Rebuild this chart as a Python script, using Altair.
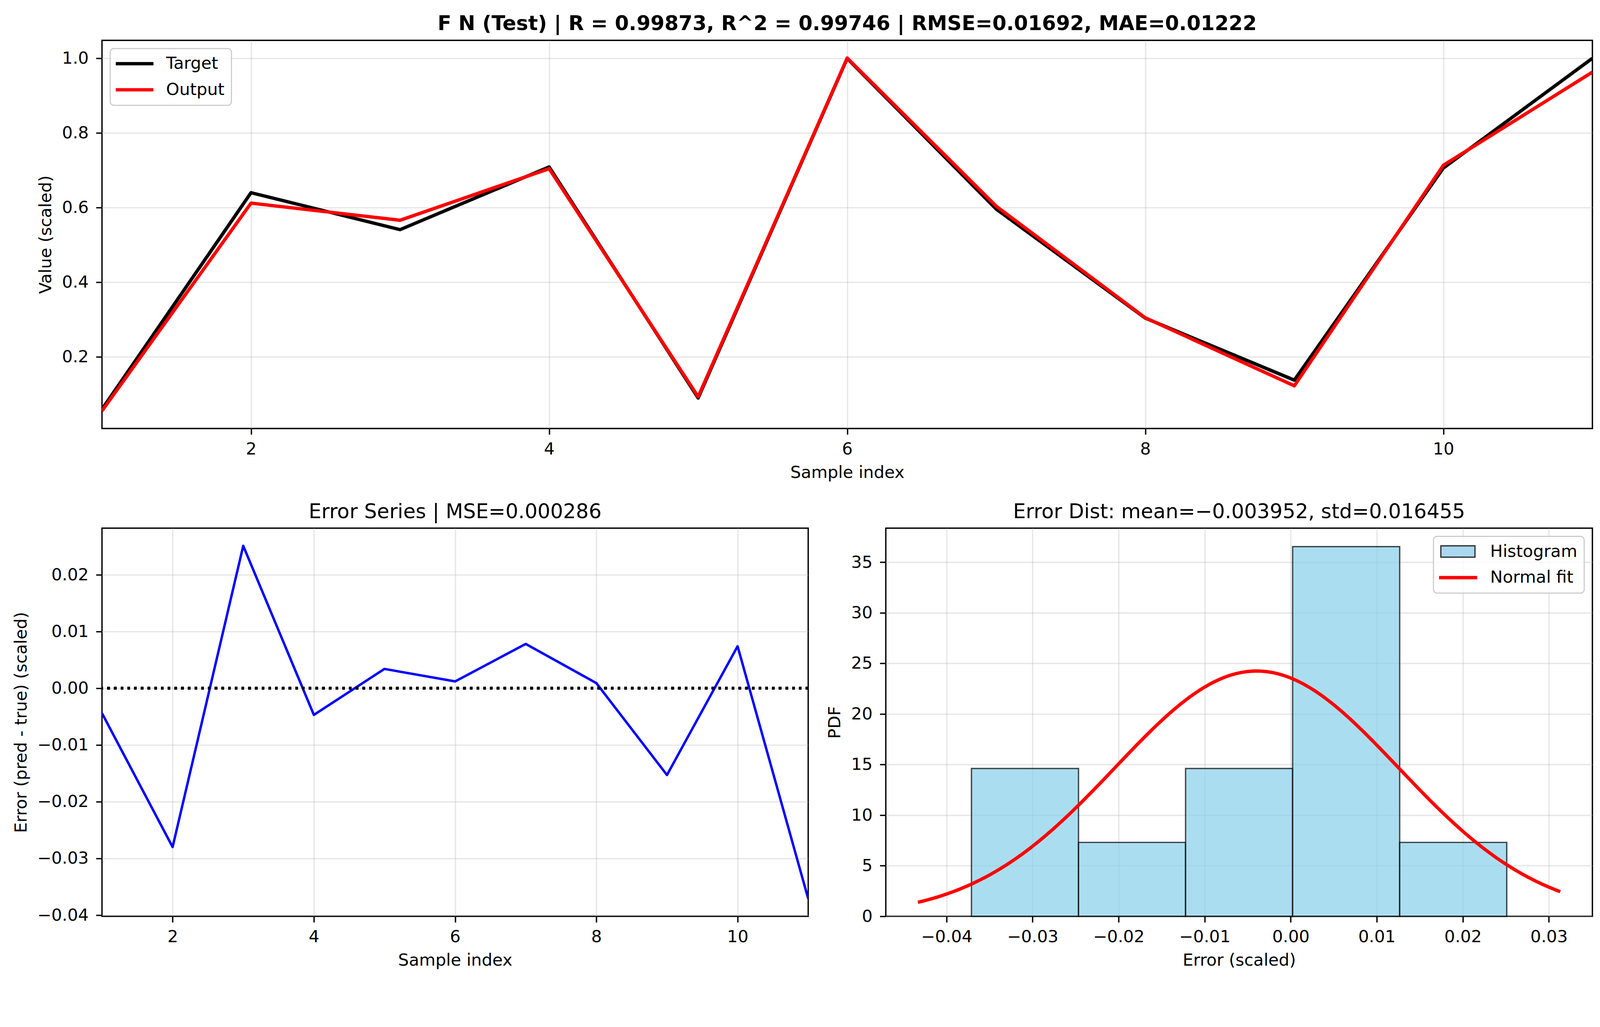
import altair as alt
import numpy as np
import pandas as pd

# ---------------- data ----------------
sample_index = list(range(1, 12))
target = [0.060, 0.640, 0.541, 0.709, 0.090, 0.9995, 0.596, 0.304, 0.138, 0.706, 1.000]
error = [-0.0044, -0.0280, 0.0251, -0.0047, 0.0034, 0.0012, 0.0078, 0.0009, -0.0153, 0.0074, -0.0371]
output = [round(t + e, 5) for t, e in zip(target, error)]

top_title = "F N (Test) | R = 0.99873, R^2 = 0.99746 | RMSE=0.01692, MAE=0.01222"
err_title = "Error Series | MSE=0.000286"
dist_title = "Error Dist: mean=\u22120.003952, std=0.016455"
fit_mean = -0.003952
fit_std = 0.016455
n_bins = 5

x_ticks = [2, 4, 6, 8, 10]
top_y_ticks = [0.2, 0.4, 0.6, 0.8, 1.0]
err_y_ticks = [-0.04, -0.03, -0.02, -0.01, 0.0, 0.01, 0.02]
dist_x_ticks = [-0.04, -0.03, -0.02, -0.01, 0.0, 0.01, 0.02, 0.03]
dist_y_ticks = [0, 5, 10, 15, 20, 25, 30, 35]

FONT = "DejaVu Sans"


def margin(lo, hi, frac=0.05):
    pad = (hi - lo) * frac
    return [lo - pad, hi + pad]


# ---------------- tables ----------------
top_df = pd.DataFrame({
    "sample": sample_index * 2,
    "value": target + output,
    "series": ["Target"] * len(target) + ["Output"] * len(output),
})
err_df = pd.DataFrame({"sample": sample_index, "error": error})

density, edges = np.histogram(np.array(error), bins=n_bins, density=True)
hist_df = pd.DataFrame({
    "start": edges[:-1],
    "end": edges[1:],
    "density": density,
    "series": "Histogram",
})
rng = max(error) - min(error)
xs = np.linspace(min(error) - 0.1 * rng, max(error) + 0.1 * rng, 300)
pdf = np.exp(-0.5 * ((xs - fit_mean) / fit_std) ** 2) / (fit_std * np.sqrt(2 * np.pi))
fit_df = pd.DataFrame({"x": xs, "pdf": pdf, "series": "Normal fit"})

top_domain = margin(min(target + output), max(target + output))
err_domain = margin(min(error), max(error))
dist_x_domain = margin(float(xs.min()), float(xs.max()))
dist_y_domain = [0, float(max(density.max(), pdf.max())) * 1.05]

LEG = dict(
    title=None,
    offset=22,
    padding=18,
    rowPadding=24,
    labelFontSize=45,
    labelFont=FONT,
    labelColor="black",
    labelLimit=1000,
    symbolSize=1296,
    strokeColor="#cccccc",
    fillColor="rgba(255,255,255,0.8)",
    cornerRadius=10,
)

RES = dict(color="independent", stroke="independent", shape="independent",
           x="independent", y="independent")

# ---------------- top panel ----------------
color_top = alt.Color(
    "series:N",
    scale=alt.Scale(domain=["Target", "Output"], range=["black", "red"]),
    legend=alt.Legend(orient="top-left", symbolType="M-1.417,0L4.194,0", symbolStrokeWidth=9,
                      labelOffset=87, **LEG),
)
x_top = alt.X("sample:Q", scale=alt.Scale(domain=[1, 11], nice=False, zero=False),
              axis=alt.Axis(values=x_ticks, format="d", title="Sample index"))
y_top = alt.Y("value:Q", scale=alt.Scale(domain=top_domain, nice=False, zero=False),
              axis=alt.Axis(values=top_y_ticks, format=".1f", title="Value (scaled)"))

base_top = alt.Chart(top_df)
line_target = base_top.transform_filter("datum.series === 'Target'").mark_line(
    strokeWidth=9, strokeJoin="round", clip=True).encode(x=x_top, y=y_top, color=color_top)
line_output = base_top.transform_filter("datum.series === 'Output'").mark_line(
    strokeWidth=9, strokeJoin="round", clip=True).encode(x=x_top, y=y_top, color=color_top)

top = alt.layer(line_target, line_output).properties(
    width=3995, height=1040,
    title=alt.TitleParams(top_title, fontWeight="bold", fontSize=54, anchor="middle", frame="group"),
)

# ---------------- bottom-left panel ----------------
x_err = alt.X("sample:Q", scale=alt.Scale(domain=[1, 11], nice=False, zero=False),
              axis=alt.Axis(values=x_ticks, format="d", title="Sample index"))
y_err = alt.Y("error:Q", scale=alt.Scale(domain=err_domain, nice=False, zero=False),
              axis=alt.Axis(values=err_y_ticks, format=".2f", title="Error (pred - true) (scaled)"))
err_line = alt.Chart(err_df).mark_line(color="blue", strokeWidth=6.5, strokeJoin="round", clip=True).encode(
    x=x_err, y=y_err)
zero_rule = alt.Chart(err_df).mark_rule(color="black", strokeWidth=6.8, strokeDash=[6.8, 11.2]).encode(
    y=alt.datum(0))
bl = alt.layer(err_line, zero_rule).properties(
    width=1893, height=1040,
    title=alt.TitleParams(err_title, anchor="middle", frame="group"),
)

# ---------------- bottom-right panel ----------------
legend_names = ["Histogram", "Normal fit"]
legend_fill = ["#abd8f1", "red"]
legend_stroke = ["#3a3a3a", "red"]
legend_shape = [
    "M-1.15,-0.844L3.928,-0.844L3.928,0.844L-1.15,0.844Z",
    "M-1.317,-0.15L4.15,-0.15L4.15,0.15L-1.317,0.15Z",
]
br_legend = alt.Legend(orient="top-right", symbolStrokeWidth=3.6, symbolOpacity=1, labelOffset=89, **LEG)

x_dist = alt.X("start:Q", scale=alt.Scale(domain=dist_x_domain, nice=False, zero=False),
               axis=alt.Axis(values=dist_x_ticks, format=".2f", title="Error (scaled)"))
y_dist = alt.Y("density:Q", scale=alt.Scale(domain=dist_y_domain, nice=False),
               axis=alt.Axis(values=dist_y_ticks, format="d", title="PDF"))
bars = alt.Chart(hist_df).mark_bar(
    fill="#87CEEB", fillOpacity=0.7, stroke="black", strokeOpacity=0.7, strokeWidth=3.6
).encode(x=x_dist, x2="end:Q", y=y_dist, y2=alt.datum(0))
fit_line = alt.Chart(fit_df).mark_line(color="red", strokeWidth=9, strokeJoin="round", clip=True).encode(
    x="x:Q", y="pdf:Q")
legend_layer = alt.Chart(hist_df).transform_filter("false").mark_point(filled=True, opacity=1).encode(
    x="start:Q", y="density:Q",
    color=alt.Color("series:N", scale=alt.Scale(domain=legend_names, range=legend_fill), legend=br_legend),
    stroke=alt.Stroke("series:N", scale=alt.Scale(domain=legend_names, range=legend_stroke), legend=br_legend),
    shape=alt.Shape("series:N", scale=alt.Scale(domain=legend_names, range=legend_shape), legend=br_legend),
)
br = alt.layer(bars, fit_line, legend_layer).properties(
    width=1894, height=1040,
    title=alt.TitleParams(dist_title, anchor="middle", frame="group"),
)

bottom = alt.hconcat(bl, br, spacing=208, bounds="flush").resolve_scale(**RES)

chart = alt.vconcat(top, bottom, spacing=267, bounds="flush").resolve_scale(**RES).properties(
    padding={"left": 24, "top": -32, "right": 10, "bottom": 10},
    background="white",
).configure(font=FONT).configure_view(
    stroke="black", strokeWidth=3.6
).configure_axis(
    grid=True, gridColor="#b0b0b0", gridOpacity=0.3, gridWidth=3.6,
    domain=False, ticks=True, tickColor="black", tickSize=16, tickWidth=3.6,
    labelFont=FONT, labelFontSize=45, labelColor="black",
    labelFlush=False, labelOverlap=False,
    titleFont=FONT, titleFontSize=45, titleFontWeight="normal", titleColor="black",
).configure_axisX(
    labelPadding=17, titlePadding=18,
).configure_axisY(
    labelPadding=20, titlePadding=20,
).configure_legend(
    strokeWidth=3,
).configure_title(
    font=FONT, fontSize=54, fontWeight="normal", color="black", offset=16,
)

chart.save("out.html", embed_options={"renderer": "svg", "actions": False})
